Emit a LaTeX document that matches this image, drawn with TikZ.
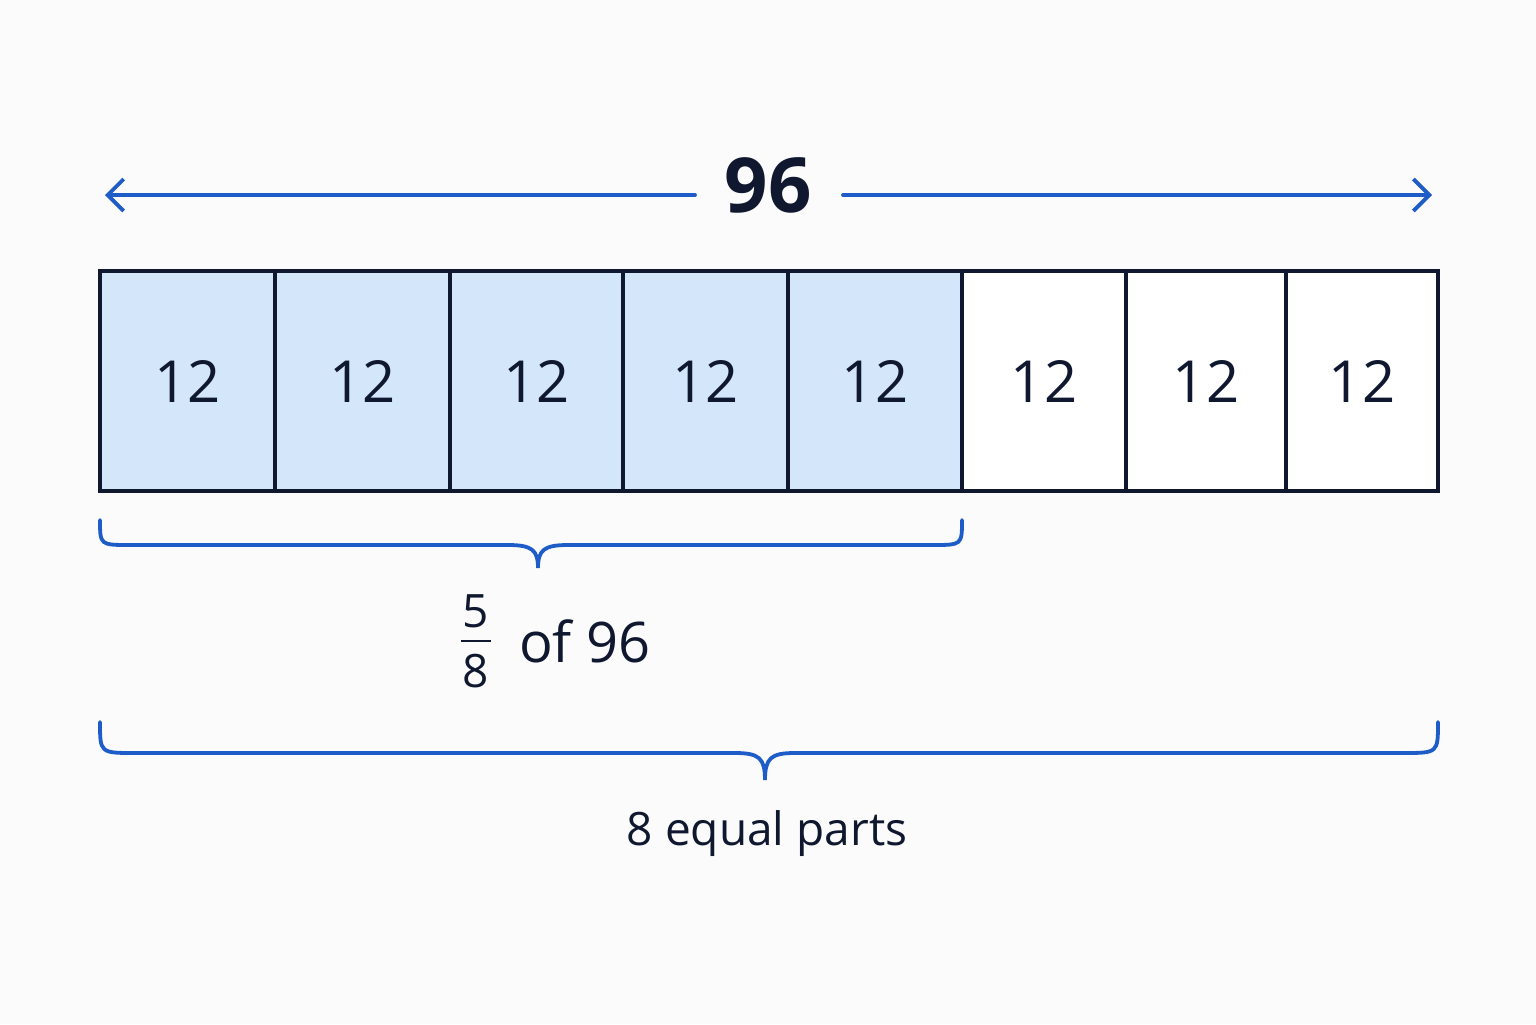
\documentclass[tikz,border=0pt]{standalone}
\usepackage{fontspec}
\setmainfont{Open Sans}
\usetikzlibrary{arrows.meta}
\definecolor{bl}{HTML}{1E5CC8}
\definecolor{ink}{HTML}{101830}
\definecolor{cellblue}{HTML}{D3E6FA}
\begin{document}
\begin{tikzpicture}[x=0.5pt,y=-0.5pt,
  cell/.style={draw=ink,line width=1.8pt},
  num/.style={text=ink,font=\fontsize{29}{34}\selectfont},
  br/.style={draw=bl,line width=1.9pt,line cap=round}]
\useasboundingbox (0,0) rectangle (1536,1024);
\fill[white!97!gray] (0,0) rectangle (1536,1024);
\fill[cellblue] (100,271) rectangle (962,491);
\fill[white] (962,271) rectangle (1438,491);
\foreach \a/\b [count=\i] in {100/275,275/450,450/623,623/788,788/962,962/1126,1126/1286,1286/1438}{
  \draw[cell] (\a,271) rectangle (\b,491);
  \node[num] (c\i) at ({(\a+\b)/2},381) {12};
}
\node[text=ink,font=\fontsize{38}{42}\selectfont\bfseries] (t) at (768,185) {96};
\coordinate (l) at (105,195); \coordinate (r) at (1432,195);
\draw[br,-{Straight Barb[length=8pt,width=16pt]}] (695,195) -- (l);
\draw[br,-{Straight Barb[length=8pt,width=16pt]}] (843,195) -- (r);
\draw[br] (100,520) .. controls (100,545) .. (130,545) -- (508,545) .. controls (532,545) and (538,550) .. (538,568)
  .. controls (538,550) and (544,545) .. (568,545) -- (932,545) .. controls (962,545) .. (962,520);
\draw[br] (100,722) .. controls (100,753) .. (135,753) -- (735,753) .. controls (759,753) and (765,758) .. (765,780)
  .. controls (765,758) and (771,753) .. (795,753) -- (1403,753) .. controls (1438,753) .. (1438,722);
\node[text=ink,font=\fontsize{23}{26}\selectfont] (n5) at (476,611) {5};
\node[text=ink,font=\fontsize{23}{26}\selectfont] (n8) at (476,671) {8};
\draw[ink,line width=1.3pt] (461,641) -- (491,641);
\node[text=ink,font=\fontsize{28}{32}\selectfont,anchor=west] (o) at (512,641) {of 96};
\node[text=ink,font=\fontsize{23}{28}\selectfont] (e) at (767,834) {8 equal parts};
\end{tikzpicture}
\end{document}
